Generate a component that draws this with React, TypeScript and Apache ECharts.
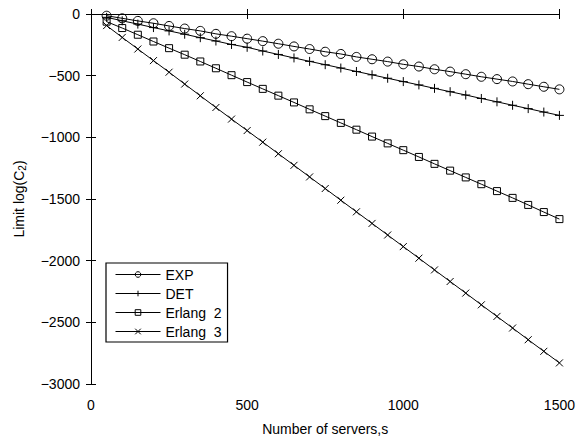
import React, { useEffect, useRef } from "react";
import * as echarts from "echarts";

const servers = [50, 100, 150, 200, 250, 300, 350, 400, 450, 500, 550, 600, 650, 700, 750, 800, 850, 900, 950, 1000, 1050, 1100, 1150, 1200, 1250, 1300, 1350, 1400, 1450, 1500];
const expValues = [-14, -35, -56, -75, -97, -118, -137, -161, -180, -200, -220, -241, -263, -284, -306, -324, -348, -367, -386, -408, -426, -448, -467, -488, -509, -528, -547, -569, -590, -611];
const detValues = [-27, -55, -82, -110, -137, -164, -192, -219, -247, -270, -300, -328, -356, -384, -411, -438, -466, -493, -521, -548, -575, -603, -630, -657, -685, -712, -740, -767, -795, -822];
const erlang2Values = [-62, -114, -168, -223, -277, -330, -385, -440, -496, -552, -607, -662, -717, -773, -828, -883, -938, -994, -1049, -1104, -1159, -1215, -1270, -1325, -1380, -1436, -1491, -1548, -1606, -1663];
const erlang3Values = [-94, -190, -284, -378, -472, -568, -663, -758, -852, -945, -1039, -1133, -1227, -1321, -1415, -1510, -1604, -1698, -1792, -1886, -1980, -2075, -2169, -2263, -2358, -2452, -2546, -2641, -2735, -2829];
const xTicks = [0, 500, 1000, 1500];
const yTicks = [0, -500, -1000, -1500, -2000, -2500, -3000];

const FONT = "'Liberation Sans', Arial, Helvetica, sans-serif";

function pairs(vals: number[]) {
  return servers.map((s, i) => [s, vals[i]]);
}

export default function App() {
  const ref = useRef<HTMLDivElement>(null);
  useEffect(() => {
    if (!ref.current) return;
    const chart = echarts.init(ref.current, null, { renderer: "svg" });
    const common = {
      type: "line",
      color: "#000",
      lineStyle: { color: "#000", width: 1 },
      showSymbol: true,
      z: 3,
    };
    const hollow = { color: "rgba(0,0,0,0)", borderColor: "#000", borderWidth: 1 };
    const axisLine = { show: true, lineStyle: { color: "#000", width: 1 } };
    const axisTick = { show: true, inside: true, length: 5, lineStyle: { color: "#000", width: 1 } };
    const minus = (v: number) => String(v).replace("-", "\u2212");
    chart.setOption({
      animation: false,
      backgroundColor: "#fff",
      grid: { left: 91, right: 14, top: 14, bottom: 54 },
      legend: {
        orient: "vertical",
        left: 106,
        top: 263,
        itemWidth: 45,
        itemHeight: 7,
        itemGap: 4,
        padding: [4, 6, 3, 9],
        borderColor: "#000",
        borderWidth: 1.2,
        backgroundColor: "#fff",
        lineStyle: { width: 1, color: "#000" },
        itemStyle: { borderWidth: 1, borderColor: "#000", color: "rgba(0,0,0,0)" },
        textStyle: { fontFamily: FONT, fontSize: 14, color: "#000", lineHeight: 15 },
        data: ["EXP", "DET", "Erlang  2", "Erlang  3"],
      },
      xAxis: [
        {
          type: "value",
          min: 0,
          max: 1500,
          interval: 500,
          name: "Number of servers,s",
          nameLocation: "middle",
          nameGap: 38,
          nameTextStyle: { fontFamily: FONT, fontSize: 14, color: "#000" },
          axisLine,
          axisTick,
          splitLine: { show: false },
          axisLabel: { fontFamily: FONT, fontSize: 14, color: "#000", margin: 14,
            formatter: (v: number) => (xTicks.includes(v) ? minus(v) : "") },
        },
        {
          type: "value",
          position: "top",
          min: 0,
          max: 1500,
          interval: 500,
          axisLine,
          axisTick,
          splitLine: { show: false },
          axisLabel: { show: false },
        },
      ],
      yAxis: [
        {
          type: "value",
          min: -3000,
          max: 0,
          interval: 500,
          name: "Limit log(C{sub|2})",
          nameLocation: "middle",
          nameGap: 64,
          nameTextStyle: {
            fontFamily: FONT,
            fontSize: 14,
            color: "#000",
            rich: { sub: { fontFamily: FONT, fontSize: 10, color: "#000", verticalAlign: "bottom", padding: [6, 0, 0, 0] } },
          },
          axisLine,
          axisTick,
          splitLine: { show: false },
          axisLabel: { fontFamily: FONT, fontSize: 14, color: "#000", margin: 11,
            formatter: (v: number) => (yTicks.includes(v) ? minus(v) : "") },
        },
        {
          type: "value",
          position: "right",
          min: -3000,
          max: 0,
          interval: 500,
          axisLine,
          axisTick,
          splitLine: { show: false },
          axisLabel: { show: false },
        },
      ],
      series: [
        { ...common, name: "EXP", data: pairs(expValues), symbol: "circle", symbolSize: 9, itemStyle: hollow },
        { ...common, name: "DET", data: pairs(detValues), symbol: "path://M5,0L5,10M0,5L10,5", symbolSize: 9, itemStyle: hollow },
        { ...common, name: "Erlang  2", data: pairs(erlang2Values), symbol: "rect", symbolSize: 7, itemStyle: hollow },
        { ...common, name: "Erlang  3", data: pairs(erlang3Values), symbol: "path://M0,0L10,10M10,0L0,10", symbolSize: 7, itemStyle: hollow },
      ],
    });
    return () => chart.dispose();
  }, []);
  return <div ref={ref} style={{ position: "fixed", left: 0, top: 0, width: 578, height: 441 }} />;
}
